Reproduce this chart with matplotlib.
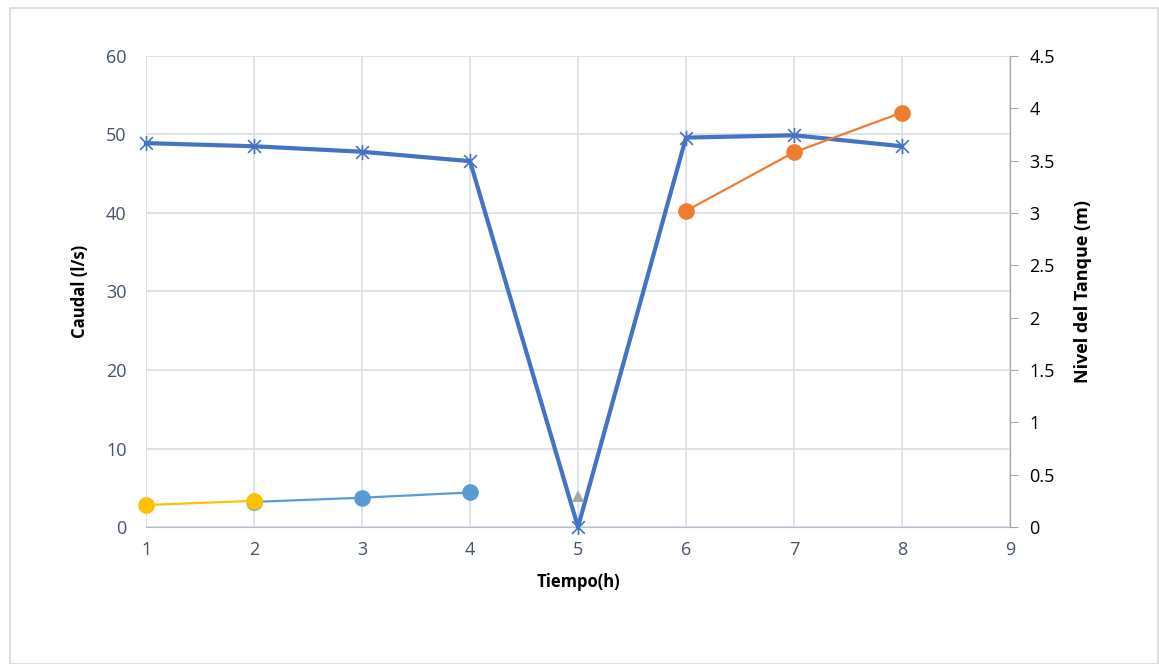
import numpy as np
import matplotlib.pyplot as plt
from matplotlib.path import Path

# Hourly readings: flow on the left axis, tank level (split by pump state) on the right.
HOURS = [1, 2, 3, 4, 5, 6, 7, 8]
CAUDAL = [48.9, 48.5, 47.8, 46.6, 0.0, 49.6, 49.9, 48.5]

NAN = np.nan
NIVEL_AMARILLO = [0.21, 0.25, NAN, NAN, NAN, NAN, NAN, NAN]
NIVEL_AZUL = [NAN, 0.24, 0.28, 0.33, NAN, NAN, NAN, NAN]
NIVEL_GRIS = [NAN, NAN, NAN, NAN, 0.30, NAN, NAN, NAN]
NIVEL_NARANJA = [NAN, NAN, NAN, NAN, NAN, 3.02, 3.58, 3.96]

TICK_COLOR = "#44546A"
GRID_COLOR = "#D9DEE6"

# star marker: an "x" with a vertical stroke through it
STAR = Path(
    [(-1, -1), (1, 1), (-1, 1), (1, -1), (0, -1.2), (0, 1.2)],
    [Path.MOVETO, Path.LINETO, Path.MOVETO, Path.LINETO, Path.MOVETO, Path.LINETO],
)

plt.rcParams["font.family"] = ["Open Sans", "DejaVu Sans"]

fig = plt.figure(figsize=(11.59, 6.64), dpi=100)
# thin frame round the whole chart
fig.patches.append(plt.Rectangle((0.009, 0.0), 0.99, 0.988, transform=fig.transFigure,
                                 fill=False, edgecolor="#D9D9D9", linewidth=1.2))

ax = fig.add_axes([0.126, 0.2063, 0.7454, 0.7094])
ax2 = ax.twinx()

ax.plot(HOURS, CAUDAL, color="#4472C4", linewidth=3, zorder=3, clip_on=False)
ax.plot(HOURS, CAUDAL, linestyle="none", marker=STAR, color="#4472C4",
        markersize=11, markeredgewidth=1.2, zorder=4, clip_on=False)

# blue drawn before yellow so the yellow point at hour 2 sits on top
series = [
    (NIVEL_AZUL, "#5B9BD5", "o"),
    (NIVEL_AMARILLO, "#FFC000", "o"),
    (NIVEL_GRIS, "#A5A5A5", "^"),
    (NIVEL_NARANJA, "#ED7D31", "o"),
]
for vals, col, mk in series:
    ax2.plot(HOURS, vals, color=col, linewidth=1.6, clip_on=False)
    ax2.plot(HOURS, vals, linestyle="none", marker=mk, color=col,
             markersize=12 if mk == "o" else 8, markeredgewidth=0, clip_on=False)

ax.set_xlim(1, 9)
ax.set_ylim(0, 60)
ax.set_yticks(range(0, 61, 10))
ax.set_xticks(range(1, 10))
ax2.set_ylim(0, 4.5)
ax2.set_yticks(np.arange(0, 4.51, 0.5))
ax2.set_yticklabels(["0", "0.5", "1", "1.5", "2", "2.5", "3", "3.5", "4", "4.5"])

ax.grid(True, color=GRID_COLOR, linewidth=1.2)
ax.set_axisbelow(True)
for s in ["top", "left", "right"]:
    ax.spines[s].set_visible(False)
    ax2.spines[s].set_visible(False)
ax2.spines["bottom"].set_visible(False)
ax.spines["bottom"].set_color("#B4BCCB")
ax2.spines["right"].set_visible(True)
ax2.spines["right"].set_color("#A6A6A6")

ax.tick_params(axis="both", length=0, labelsize=13, labelcolor=TICK_COLOR, pad=10)
ax.tick_params(axis="y", pad=14)
ax2.tick_params(axis="y", length=6, color="#A6A6A6", labelsize=13, labelcolor="black", pad=8)

ax.set_xlabel("Tiempo(h)", fontsize=12, fontweight="bold", labelpad=10)
ax.set_ylabel("Caudal (l/s)", fontsize=12, fontweight="bold", labelpad=12)
ax2.set_ylabel("Nivel del Tanque (m)", fontsize=13, fontweight="bold", labelpad=14)

fig.savefig("out.png", dpi=100)
